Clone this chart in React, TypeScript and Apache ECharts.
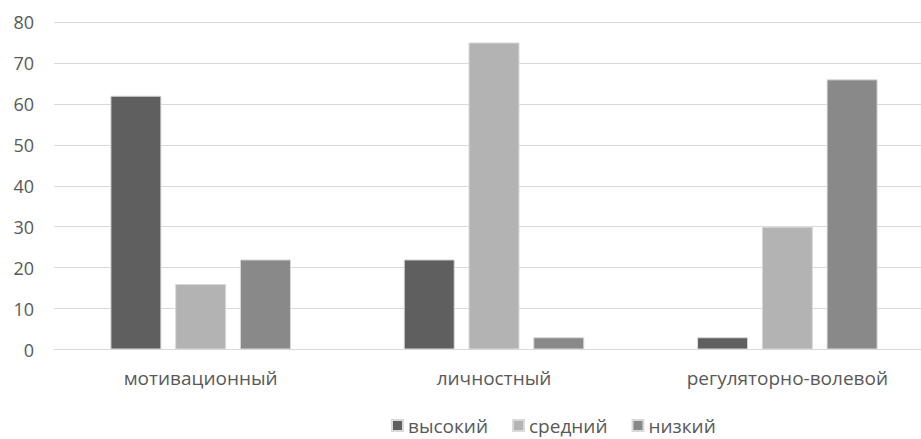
import React, { useEffect, useRef } from "react";
import * as echarts from "echarts";

const categories = ["мотивационный", "личностный", "регуляторно-волевой"];
const seriesNames = ["высокий", "средний", "низкий"];
const high = [62, 22, 3];
const medium = [16, 75, 30];
const low = [22, 3, 66];
const colors = ["#5f5f5f", "#b3b3b3", "#898989"];

export default function App() {
  const ref = useRef<HTMLDivElement>(null);
  useEffect(() => {
    if (!ref.current) return;
    const chart = echarts.init(ref.current, undefined, { renderer: "svg" });
    const font = "'Open Sans', sans-serif";
    const data = [high, medium, low];
    chart.setOption({
      animation: false,
      textStyle: { fontFamily: font },
      grid: { left: 54, right: 0, top: 22, bottom: 89.5, containLabel: false },
      legend: {
        top: 416,
        left: 391,
        padding: 0,
        itemWidth: 11,
        itemHeight: 11,
        itemGap: 24,
        icon: "rect",
        textStyle: { color: "#595959", fontSize: 19, fontFamily: font, lineHeight: 19 },
        data: seriesNames,
      },
      xAxis: {
        type: "category",
        data: categories,
        axisLine: { lineStyle: { color: "#d9d9d9" } },
        axisTick: { show: false },
        axisLabel: { color: "#595959", fontSize: 19, margin: 19, fontFamily: font },
      },
      yAxis: {
        type: "value",
        min: 0,
        max: 80,
        interval: 10,
        axisLine: { show: false },
        axisTick: { show: false },
        splitLine: { lineStyle: { color: "#d9d9d9", width: 1 } },
        axisLabel: { color: "#595959", fontSize: 18, margin: 20, fontFamily: font },
      },
      series: seriesNames.map((name, i) => ({
        name,
        type: "bar",
        data: data[i],
        barWidth: 51,
        barGap: "27%",
        itemStyle: { color: colors[i], borderColor: "#d9d9d9", borderWidth: 1 },
      })),
    });
    return () => chart.dispose();
  }, []);
  return (
    <div style={{ width: 921, height: 439, position: "absolute", left: 0, top: 0, overflow: "hidden" }}>
      <div ref={ref} style={{ width: 934, height: 439 }} />
    </div>
  );
}
